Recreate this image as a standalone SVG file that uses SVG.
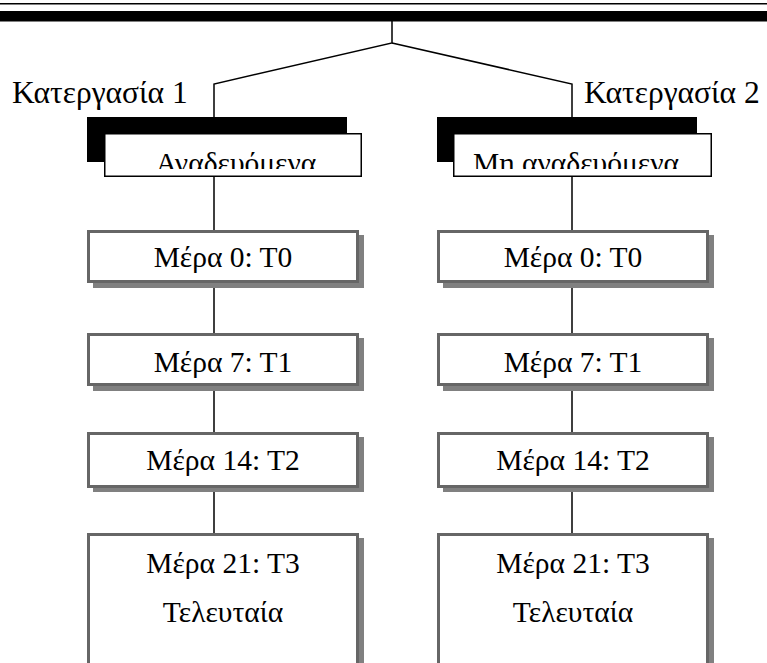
<svg xmlns="http://www.w3.org/2000/svg" width="767" height="663" viewBox="0 0 767 663">
<style>
text{font-family:"Liberation Serif","Times New Roman",serif;fill:#000}
.lbl{font-size:31.5px}
.t{font-size:29.5px;text-anchor:middle}
.box{fill:#fff;stroke:#666;stroke-width:3}
.sh{fill:#808080}
.hdr{fill:#fff;stroke:#000;stroke-width:1.5}
.ln{stroke:#000;stroke-width:1.5;fill:none}
</style>
<defs>
<clipPath id="c1"><rect x="105" y="134" width="256" height="35"/></clipPath>
<clipPath id="c2"><rect x="454" y="134" width="257" height="35"/></clipPath>
</defs>
<rect x="0" y="3" width="767" height="1.5" fill="#000"/>
<rect x="0" y="11" width="767" height="10.5" fill="#000"/>
<g id="connectors">
<path class="ln" d="M392,21 V43 L214,84 V117"/>
<path class="ln" d="M392,43 L572,84 V117"/>
<path class="ln" d="M214,177 V230 M214,283 V333 M214,386 V432 M214,488 V533"/>
<path class="ln" d="M572,177 V230 M572,283 V333 M572,386 V432 M572,488 V533"/>
</g>
<g id="label1"><text class="lbl" x="12" y="103">Κατεργασία 1</text></g>
<g id="label2"><text class="lbl" x="584" y="103">Κατεργασία 2</text></g>
<g id="hdr1">
<rect x="87" y="117" width="260" height="45" fill="#000"/>
<rect class="hdr" x="104.75" y="133.75" width="256.5" height="42.5"/>
<text clip-path="url(#c1)" class="t" x="236" y="173">Αναδευόμενα</text>
</g>
<g id="hdr2">
<rect x="437" y="117" width="260" height="45" fill="#000"/>
<rect class="hdr" x="453.75" y="133.75" width="257.5" height="42.5"/>
<text clip-path="url(#c2)" class="t" x="576" y="173">Μη αναδευόμενα</text>
</g>
<g id="l0">
<rect class="sh" x="93" y="235" width="271" height="53"/>
<rect class="box" x="88.5" y="231.5" width="269" height="50"/>
<text class="t" x="223" y="267">Μέρα 0: Τ0</text>
</g>
<g id="l1">
<rect class="sh" x="93" y="338" width="271" height="53"/>
<rect class="box" x="88.5" y="334.5" width="269" height="50"/>
<text class="t" x="223" y="372">Μέρα 7: Τ1</text>
</g>
<g id="l2">
<rect class="sh" x="93" y="437" width="271" height="55"/>
<rect class="box" x="88.5" y="433.5" width="269" height="53"/>
<text class="t" x="223" y="470">Μέρα 14: Τ2</text>
</g>
<g id="l3">
<rect class="sh" x="93" y="538" width="271" height="140"/>
<rect class="box" x="88.5" y="534.5" width="269" height="140"/>
<text class="t" x="223" y="573">Μέρα 21: Τ3</text>
<text class="t" x="223" y="622">Τελευταία</text>
</g>
<g id="r0">
<rect class="sh" x="443" y="235" width="271" height="53"/>
<rect class="box" x="438.5" y="231.5" width="269" height="50"/>
<text class="t" x="573" y="267">Μέρα 0: Τ0</text>
</g>
<g id="r1">
<rect class="sh" x="443" y="338" width="271" height="53"/>
<rect class="box" x="438.5" y="334.5" width="269" height="50"/>
<text class="t" x="573" y="372">Μέρα 7: Τ1</text>
</g>
<g id="r2">
<rect class="sh" x="443" y="437" width="271" height="55"/>
<rect class="box" x="438.5" y="433.5" width="269" height="53"/>
<text class="t" x="573" y="470">Μέρα 14: Τ2</text>
</g>
<g id="r3">
<rect class="sh" x="443" y="538" width="271" height="140"/>
<rect class="box" x="438.5" y="534.5" width="269" height="140"/>
<text class="t" x="573" y="573">Μέρα 21: Τ3</text>
<text class="t" x="573" y="622">Τελευταία</text>
</g>
</svg>
